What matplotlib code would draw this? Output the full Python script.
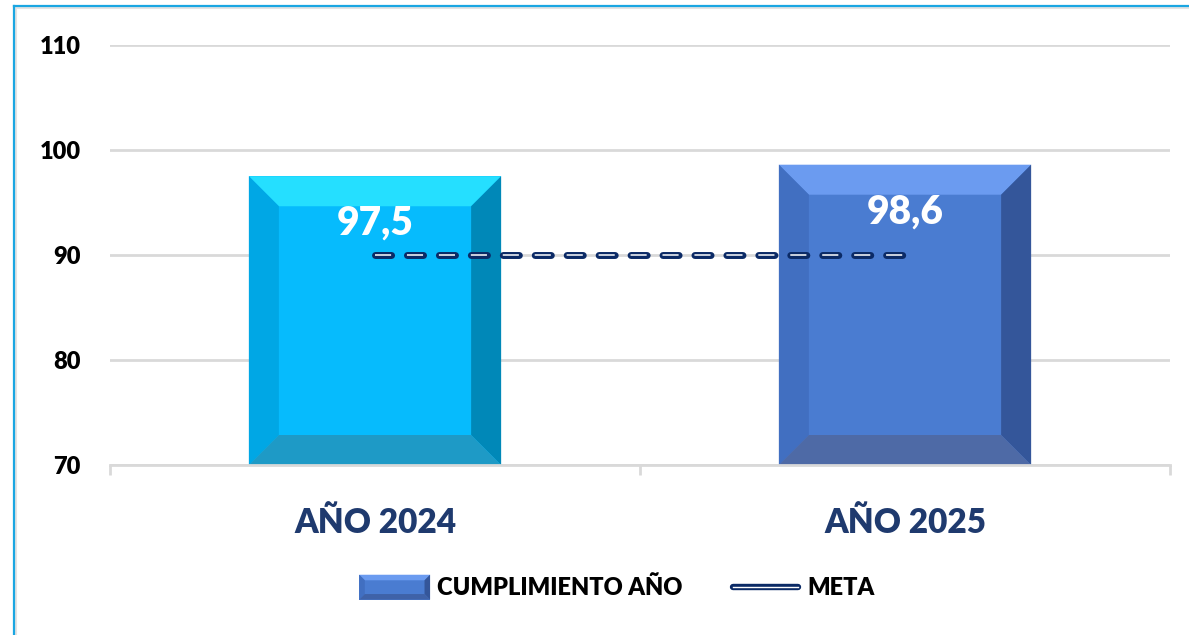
import matplotlib
matplotlib.use("Agg")
import matplotlib.pyplot as plt
from matplotlib.patches import Polygon, Rectangle
from matplotlib.lines import Line2D
from matplotlib.legend_handler import HandlerBase

plt.rcParams['font.family'] = ['Lato', 'DejaVu Sans']
plt.rcParams['lines.scale_dashes'] = False

categories = ["AÑO 2024", "AÑO 2025"]
cumplimiento = [97.5, 98.6]
meta = [90, 90]
value_labels = ["97,5", "98,6"]
y_ticks = [70, 80, 90, 100, 110]

# front, top, left, right, bottom
bar_colors = [
    ["#06BBFD", "#25DFFF", "#00A7E5", "#0088B8", "#1E9AC6"],
    ["#4A7CD1", "#6B9BF0", "#416FC1", "#34569A", "#4E6AA6"],
]
navy = "#0B2A66"
W8 = "heavy"

W, H = 1189, 635
fig = plt.figure(figsize=(W / 100, H / 100), dpi=100)
ax_l, ax_r, ax_t, ax_b = 110, 1170, 45, 465
ax = fig.add_axes([ax_l / W, 1 - ax_b / H, (ax_r - ax_l) / W, (ax_b - ax_t) / H])

x = list(range(len(categories)))
ax.set_xlim(-0.5, len(categories) - 0.5)
ax.set_ylim(70, 110)

bars = ax.bar(x, [v - 70 for v in cumplimiento], bottom=70, width=0.476, zorder=2)

# bevel size: 30 px converted to data units
bev_px = 30
bx = bev_px * (len(categories)) / (ax_r - ax_l)
by = bev_px * 40 / (ax_b - ax_t)


def bevel(axis, x0, y0, w, h, cols, bx, by, z=2):
    x1, y1 = x0 + w, y0 + h
    axis.add_patch(Rectangle((x0, y0), w, h, color=cols[0], zorder=z, lw=0))
    faces = [
        ([(x0, y1), (x1, y1), (x1 - bx, y1 - by), (x0 + bx, y1 - by)], cols[1]),
        ([(x0, y0), (x0 + bx, y0 + by), (x0 + bx, y1 - by), (x0, y1)], cols[2]),
        ([(x1, y0), (x1, y1), (x1 - bx, y1 - by), (x1 - bx, y0 + by)], cols[3]),
        ([(x0, y0), (x1, y0), (x1 - bx, y0 + by), (x0 + bx, y0 + by)], cols[4]),
    ]
    for pts, c in faces:
        axis.add_patch(Polygon(pts, closed=True, color=c, zorder=z + 0.1, lw=0))


for b, cols in zip(bars, bar_colors):
    b.set_visible(False)
    bevel(ax, b.get_x(), b.get_y(), b.get_width(), b.get_height(), cols, bx, by)

for xi, v, lab in zip(x, cumplimiento, value_labels):
    ax.annotate(lab, (xi, v), xytext=(0, -34), textcoords="offset points",
                ha="center", va="center", color="white", fontsize=28,
                fontweight=W8, zorder=5)

# meta line: dashed, rounded, with thin white core
ax.plot(x, meta, color=navy, lw=5.0, dashes=(11.6, 11.4),
        dash_capstyle="round", zorder=4)
ax.plot(x, meta, color="white", lw=1.1, dashes=(11.6, 11.4),
        dash_capstyle="butt", zorder=4.5)

ax.set_yticks(y_ticks)
ax.set_yticklabels([str(t) for t in y_ticks], fontsize=17, fontweight=W8)
ax.tick_params(axis="y", length=0, pad=21)
ax.grid(axis="y", color="#D9D9D9", lw=2, zorder=0)
ax.set_axisbelow(True)

ax.set_xticks(x)
ax.set_xticklabels(categories, fontsize=24, fontweight=W8, color="#1F3A6E")
ax.set_xticks([-0.5, 0.5, 1.5], minor=True)
ax.tick_params(axis="x", which="major", length=0, pad=30)
ax.tick_params(axis="x", which="minor", length=7, width=2, color="#D9D9D9")

for s in ["left", "right", "top"]:
    ax.spines[s].set_visible(False)
ax.spines["bottom"].set_color("#D9D9D9")
ax.spines["bottom"].set_linewidth(2)


class BevelHandler(HandlerBase):
    def create_artists(self, legend, orig, xd, yd, width, height, fontsize, trans):
        cols = ["#4A7CD1", "#6B9BF0", "#416FC1", "#34569A", "#3F62A8"]
        x0, y0 = -xd, -yd - 3
        w, h = width, height + 6
        b = 4
        arts = [Rectangle((x0, y0), w, h, color=cols[0], lw=0, transform=trans)]
        x1, y1 = x0 + w, y0 + h
        faces = [
            ([(x0, y1), (x1, y1), (x1 - b, y1 - b), (x0 + b, y1 - b)], cols[1]),
            ([(x0, y0), (x0 + b, y0 + b), (x0 + b, y1 - b), (x0, y1)], cols[2]),
            ([(x1, y0), (x1, y1), (x1 - b, y1 - b), (x1 - b, y0 + b)], cols[3]),
            ([(x0, y0), (x1, y0), (x1 - b, y0 + b), (x0 + b, y0 + b)], cols[4]),
        ]
        for pts, c in faces:
            arts.append(Polygon(pts, closed=True, color=c, lw=0, transform=trans))
        return arts


class MetaHandler(HandlerBase):
    def create_artists(self, legend, orig, xd, yd, width, height, fontsize, trans):
        yc = height / 2 - yd
        l1 = Line2D([-xd + 2, width - xd - 2], [yc, yc], color=navy, lw=4.6,
                    solid_capstyle="round", transform=trans)
        l2 = Line2D([-xd + 2, width - xd - 2], [yc, yc], color="white", lw=1.0,
                    transform=trans)
        return [l1, l2]


h_bar = Rectangle((0, 0), 1, 1)
h_meta = Line2D([], [])
fig.legend([h_bar, h_meta], ["CUMPLIMIENTO AÑO", "META"], loc="center",
           bbox_to_anchor=(0.519, 0.074), ncol=2, frameon=False,
           prop={"size": 17, "weight": W8}, handlelength=3.0,
           handletextpad=0.3, columnspacing=2.0,
           handler_map={Rectangle: BevelHandler(), Line2D: MetaHandler()})

# outer frame (top and left edges visible)
fig.add_artist(Line2D([14 / W, 1], [1 - 8 / H, 1 - 8 / H], color="#E3E3E3", lw=1.5,
                      transform=fig.transFigure))
fig.add_artist(Line2D([16 / W, 16 / W], [0, 1 - 8 / H], color="#E3E3E3", lw=1.5,
                      transform=fig.transFigure))
fig.add_artist(Line2D([14 / W, 1], [1 - 6 / H, 1 - 6 / H], color="#1AA6E2", lw=1.6,
                      transform=fig.transFigure))
fig.add_artist(Line2D([14 / W, 14 / W], [0, 1 - 6 / H], color="#1AA6E2", lw=1.6,
                      transform=fig.transFigure))

fig.savefig("out.png", dpi=100)
